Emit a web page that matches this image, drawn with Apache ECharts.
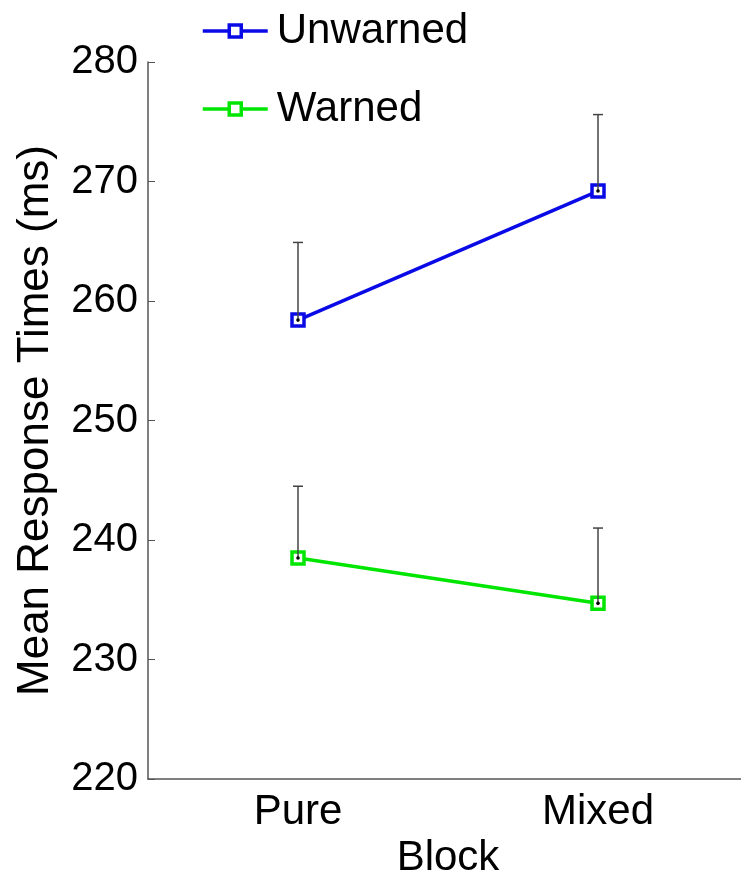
<!DOCTYPE html>
<html>
<head>
<meta charset="utf-8">
<script src="https://cdn.jsdelivr.net/npm/echarts@6/dist/echarts.min.js"></script>
<style>
html,body{margin:0;padding:0;background:#fff;}
#chart{width:741px;height:875px;}
</style>
</head>
<body>
<div id="chart"></div>
<script>
var categories = ['Pure', 'Mixed'];
var yTicks = [220, 230, 240, 250, 260, 270, 280];
var unwarned = [258.4, 269.2];
var unwarnedUpper = [264.9, 275.6];
var warned = [238.5, 234.7];
var warnedUpper = [244.5, 241.0];

var FONT = 'Liberation Sans, Arial, sans-serif';
var BLUE = '#0a0ae6';
var GREEN = '#00e600';

function errData(means, uppers) {
  return means.map(function (m, i) { return [i, m, uppers[i]]; });
}

function errRender(params, api) {
  var x = api.value(0);
  var lo = api.coord([x, api.value(1)]);
  var hi = api.coord([x, api.value(2)]);
  var cap = 5;
  return {
    type: 'group',
    children: [
      { type: 'line', shape: { x1: lo[0], y1: lo[1], x2: hi[0], y2: hi[1] },
        style: { stroke: '#444', lineWidth: 1.5 } },
      { type: 'line', shape: { x1: hi[0] - cap, y1: hi[1], x2: hi[0] + cap, y2: hi[1] },
        style: { stroke: '#444', lineWidth: 1.5 } },
      { type: 'circle', shape: { cx: lo[0], cy: lo[1], r: 1.8 },
        style: { fill: '#000' } }
    ]
  };
}

var chart = echarts.init(document.getElementById('chart'));
chart.setOption({
  animation: false,
  backgroundColor: '#fff',
  textStyle: { fontFamily: FONT },
  legend: {
    orient: 'vertical',
    left: 196,
    top: 5,
    itemWidth: 65,
    itemHeight: 15,
    itemGap: 36,
    data: ['Unwarned', 'Warned'],
    lineStyle: { width: 3.5 },
    itemStyle: { borderWidth: 3.5 },
    textStyle: { fontSize: 42, color: '#000', fontFamily: FONT, lineHeight: 42, padding: [0, 0, 0, 4] }
  },
  grid: { left: 148, top: 62, width: 600, height: 717, containLabel: false, outerBoundsMode: 'none' },
  xAxis: {
    type: 'category',
    data: categories,
    boundaryGap: true,
    name: 'Block',
    nameLocation: 'middle',
    nameGap: 58,
    nameTextStyle: { fontSize: 42, color: '#000', fontFamily: FONT },
    axisLine: { lineStyle: { color: '#555', width: 1.5 } },
    axisTick: { inside: true, alignWithLabel: true, length: 7, lineStyle: { color: '#555', width: 1 } },
    axisLabel: { fontSize: 42, color: '#000', margin: 12, fontFamily: FONT },
    splitLine: { show: false }
  },
  yAxis: {
    type: 'value',
    min: 220,
    max: 280,
    interval: 10,
    name: 'Mean Response Times (ms)',
    nameLocation: 'middle',
    nameGap: 90,
    nameRotate: 90,
    nameTextStyle: { fontSize: 44, color: '#000', fontFamily: FONT },
    axisLine: { show: true, lineStyle: { color: '#555', width: 1.5 } },
    axisTick: { show: true, inside: true, length: 7, lineStyle: { color: '#555', width: 1 } },
    axisLabel: {
      fontSize: 40, color: '#000', margin: 10, fontFamily: FONT,
      formatter: function (v) { return yTicks.indexOf(v) >= 0 ? String(v) : ''; }
    },
    splitLine: { show: false }
  },
  series: [
    {
      name: 'Unwarned',
      type: 'line',
      data: unwarned,
      symbol: 'rect',
      symbolSize: 12,
      color: BLUE,
      itemStyle: { color: '#fff', borderColor: BLUE, borderWidth: 3.5 },
      lineStyle: { color: BLUE, width: 3.5 },
      z: 2
    },
    {
      name: 'Warned',
      type: 'line',
      data: warned,
      symbol: 'rect',
      symbolSize: 12,
      color: GREEN,
      itemStyle: { color: '#fff', borderColor: GREEN, borderWidth: 3.5 },
      lineStyle: { color: GREEN, width: 3.5 },
      z: 2
    },
    {
      type: 'custom',
      renderItem: errRender,
      data: errData(unwarned, unwarnedUpper),
      encode: { x: 0, y: [1, 2] },
      z: 5,
      silent: true
    },
    {
      type: 'custom',
      renderItem: errRender,
      data: errData(warned, warnedUpper),
      encode: { x: 0, y: [1, 2] },
      z: 5,
      silent: true
    }
  ]
});
</script>
</body>
</html>
